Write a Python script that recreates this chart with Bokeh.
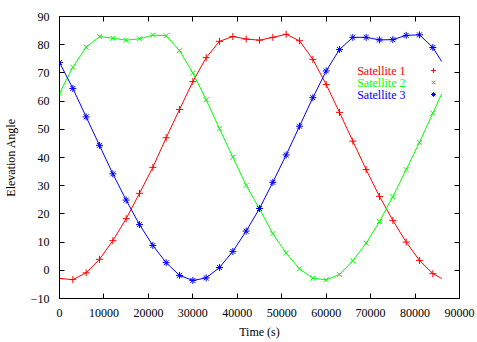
from bokeh.plotting import figure
from bokeh.models import (Range1d, FixedTicker, LinearAxis, BasicTickFormatter,
                          Legend, LegendItem, Label)
from bokeh.embed import file_html
from bokeh.resources import INLINE

# ---------------- data ----------------
time_s = [0, 3000, 6000, 9000, 12000, 15000, 18000, 21000, 24000, 27000,
          30000, 33000, 36000, 39000, 42000, 45000, 48000, 51000, 54000, 57000,
          60000, 63000, 66000, 69000, 72000, 75000, 78000, 81000, 84000]
line_end_time = 86000

sat1 = [-2.9, -3.3, -0.9, 3.9, 10.5, 18.3, 27.3, 36.5, 47.0, 57.0,
        66.9, 75.4, 81.2, 82.9, 82.0, 81.6, 82.6, 83.7, 81.4, 74.8,
        65.9, 56.0, 45.8, 35.7, 26.2, 17.7, 10.0, 3.5, -1.2]
sat1_end = -2.9

sat2 = [62.8, 72.0, 79.1, 82.9, 82.3, 81.6, 82.1, 83.4, 83.2, 77.9,
        70.0, 60.5, 50.2, 40.1, 30.1, 21.8, 13.0, 6.1, 0.5, -2.8,
        -3.4, -1.5, 3.4, 9.6, 17.3, 26.1, 35.7, 45.4, 55.7]
sat2_end = 62.6

sat3 = [73.7, 64.5, 54.4, 44.3, 34.2, 24.9, 16.2, 8.8, 2.7, -1.8,
        -3.6, -2.7, 1.0, 6.7, 13.9, 21.9, 31.2, 40.9, 51.1, 61.2,
        70.7, 78.3, 82.6, 82.6, 81.7, 81.8, 83.3, 83.5, 79.0]
sat3_end = 74.0

names = ["Satellite 1", "Satellite 2", "Satellite 3"]
colors = ["#ff0000", "#00ff00", "#0000ff"]
markers = ["cross", "x", "asterisk"]

x_ticks = [0, 10000, 20000, 30000, 40000, 50000, 60000, 70000, 80000, 90000]
y_ticks = [-10, 0, 10, 20, 30, 40, 50, 60, 70, 80, 90]

FONT = "Liberation Serif"

p = figure(width=477, height=342, output_backend="svg", toolbar_location=None,
           x_range=Range1d(0, 90000), y_range=Range1d(-10, 90),
           min_border_left=58, min_border_right=18, min_border_top=16,
           min_border_bottom=44)
p.grid.visible = False
p.outline_line_color = "black"
p.outline_line_width = 1
p.background_fill_color = "white"
p.border_fill_color = "white"

for ax in p.xaxis:
    ax.ticker = FixedTicker(ticks=x_ticks)
    ax.formatter = BasicTickFormatter(use_scientific=False)
    ax.axis_label = "Time (s)"
    ax.major_label_standoff = 10
    ax.axis_label_standoff = 5
for ax in p.yaxis:
    ax.ticker = FixedTicker(ticks=y_ticks)
    ax.axis_label = "Elevation Angle"
    ax.major_label_standoff = 10
    ax.axis_label_standoff = 10

for ax in list(p.xaxis) + list(p.yaxis):
    ax.major_tick_in = 5
    ax.major_tick_out = 0
    ax.minor_tick_line_color = None
    ax.axis_line_color = "black"
    ax.major_tick_line_color = "black"
    ax.major_label_text_font = FONT
    ax.major_label_text_font_size = "12px"
    ax.major_label_text_color = "black"
    ax.axis_label_text_font = FONT
    ax.axis_label_text_font_size = "12px"
    ax.axis_label_text_font_style = "normal"
    ax.axis_label_text_color = "black"

# mirrored ticks on top and right
top = LinearAxis(ticker=FixedTicker(ticks=x_ticks), major_tick_in=5, major_tick_out=0,
                 minor_tick_line_color=None, major_label_text_font_size="0px",
                 major_label_text_color=None, major_label_standoff=0,
                 axis_line_color="black")
right = LinearAxis(ticker=FixedTicker(ticks=y_ticks), major_tick_in=5, major_tick_out=0,
                   minor_tick_line_color=None, major_label_text_font_size="0px",
                   major_label_text_color=None, major_label_standoff=0,
                   axis_line_color="black")
p.add_layout(top, "above")
p.add_layout(right, "right")

series = [sat1, sat2, sat3]
ends = [sat1_end, sat2_end, sat3_end]
items = []
for vals, end, col, mk, name in zip(series, ends, colors, markers, names):
    p.line(time_s + [line_end_time], vals + [end], line_color=col, line_width=1)
    r = p.scatter(time_s, vals, marker=mk, size=7, line_color=col, fill_color=col,
                  line_width=1)
    items.append(LegendItem(label=" ", renderers=[r]))

legend = Legend(items=items, location=(368, 198), orientation="vertical",
                padding=0, margin=0, spacing=0, glyph_width=12, glyph_height=12,
                label_height=12, label_width=1, label_standoff=0,
                border_line_color=None, background_fill_alpha=0,
                label_text_font_size="1px")
p.add_layout(legend, "center")

row_y = [228, 215.7, 203.3]
for name, col, yy in zip(names, colors, row_y):
    p.add_layout(Label(x=346, y=yy, x_units="screen", y_units="screen", text=name,
                       text_align="right", text_baseline="middle",
                       text_font=FONT, text_font_size="12px", text_color=col))

open("out.html", "w").write(file_html(p, INLINE))
